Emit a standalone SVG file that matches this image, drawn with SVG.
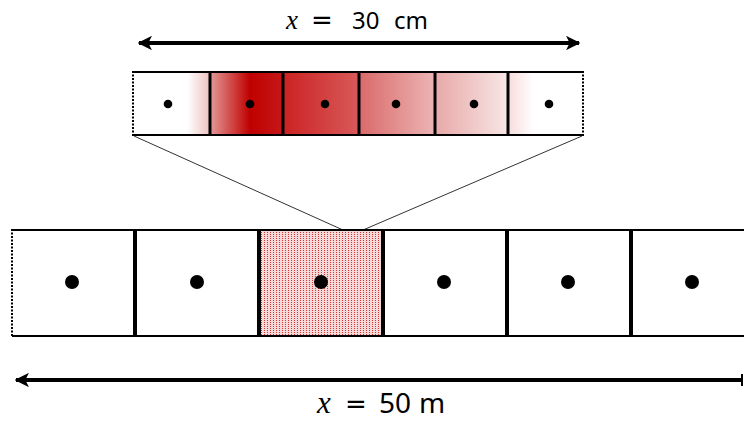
<svg xmlns="http://www.w3.org/2000/svg" width="744" height="421" viewBox="0 0 744 421">
  <style>
    .edge{stroke:#000;stroke-width:2;fill:none}
    .div{stroke:#000;stroke-width:3}
    .divb{stroke:#000;stroke-width:4}
    .dash{stroke:#000;stroke-width:2;stroke-dasharray:2 1.5}
    .conn{stroke:#333;stroke-width:1;fill:none}
    .arrow{stroke:#000;stroke-width:4;fill:none}
    .lbl{font-family:"Noto Sans","DejaVu Sans",sans-serif;fill:#000}
    .var{font-family:"Liberation Serif","DejaVu Serif",serif;font-style:italic}
    .eq{font-family:"DejaVu Sans",sans-serif}
  </style>
  <defs>
    <linearGradient id="g1" x1="133" x2="210" y1="0" y2="0" gradientUnits="userSpaceOnUse">
      <stop offset="0" stop-color="#fff"/><stop offset="0.7" stop-color="#fff"/><stop offset="1" stop-color="#eec0c0"/>
    </linearGradient>
    <linearGradient id="g2" x1="210" x2="283" y1="0" y2="0" gradientUnits="userSpaceOnUse">
      <stop offset="0" stop-color="#e49a9a"/><stop offset="0.55" stop-color="#c00000"/><stop offset="1" stop-color="#c41818"/>
    </linearGradient>
    <linearGradient id="g3" x1="283" x2="359" y1="0" y2="0" gradientUnits="userSpaceOnUse">
      <stop offset="0" stop-color="#cc2222"/><stop offset="1" stop-color="#d85a5a"/>
    </linearGradient>
    <linearGradient id="g4" x1="359" x2="435" y1="0" y2="0" gradientUnits="userSpaceOnUse">
      <stop offset="0" stop-color="#da6a6a"/><stop offset="1" stop-color="#ecb4b4"/>
    </linearGradient>
    <linearGradient id="g5" x1="435" x2="508" y1="0" y2="0" gradientUnits="userSpaceOnUse">
      <stop offset="0" stop-color="#e8a8a8"/><stop offset="1" stop-color="#f8e6e6"/>
    </linearGradient>
    <linearGradient id="g6" x1="508" x2="583" y1="0" y2="0" gradientUnits="userSpaceOnUse">
      <stop offset="0" stop-color="#f8dcdc"/><stop offset="0.35" stop-color="#fff"/><stop offset="1" stop-color="#fff"/>
    </linearGradient>
    <pattern id="dots" width="3" height="2" patternUnits="userSpaceOnUse">
      <rect width="3" height="2" fill="#f6d8d8"/>
      <rect width="1" height="1" fill="#d83838"/>
    </pattern>
    <marker id="ah" viewBox="0 0 10 10" refX="9" refY="5" markerWidth="3.6" markerHeight="3.6" orient="auto-start-reverse" markerUnits="strokeWidth">
      <path d="M0,0 L10,5 L0,10 L2.5,5 Z" fill="#000"/>
    </marker>
  </defs>

  <!-- top dimension -->
  <g id="dim-top">
    <line class="arrow" x1="139" y1="43" x2="579" y2="43" marker-start="url(#ah)" marker-end="url(#ah)"/>
    <text class="lbl" y="29" font-size="24"><tspan class="var" x="286" font-size="27">x</tspan><tspan class="eq" x="311" font-size="26">=</tspan><tspan x="352">30</tspan><tspan x="394">cm</tspan></text>
  </g>

  <!-- top (zoomed) strip -->
  <g id="fine-cell-1"><rect x="133" y="72" width="77" height="63" fill="url(#g1)"/><circle cx="168" cy="104" r="4.3"/></g>
  <g id="fine-cell-2"><rect x="210" y="72" width="73" height="63" fill="url(#g2)"/><circle cx="250" cy="104" r="4.3"/></g>
  <g id="fine-cell-3"><rect x="283" y="72" width="76" height="63" fill="url(#g3)"/><circle cx="325" cy="104" r="4.3"/></g>
  <g id="fine-cell-4"><rect x="359" y="72" width="76" height="63" fill="url(#g4)"/><circle cx="396" cy="104" r="4.3"/></g>
  <g id="fine-cell-5"><rect x="435" y="72" width="73" height="63" fill="url(#g5)"/><circle cx="474" cy="104" r="4.3"/></g>
  <g id="fine-cell-6"><rect x="508" y="72" width="75" height="63" fill="url(#g6)"/><circle cx="549" cy="104" r="4.3"/></g>
  <g id="fine-strip-frame">
    <line class="edge" x1="133" y1="72" x2="583" y2="72"/>
    <line class="edge" x1="133" y1="135" x2="583" y2="135"/>
    <line class="dash" x1="133" y1="71" x2="133" y2="136"/>
    <line class="dash" x1="583" y1="71" x2="583" y2="136"/>
    <line class="div" x1="210" y1="72" x2="210" y2="135"/>
    <line class="div" x1="283" y1="72" x2="283" y2="135"/>
    <line class="div" x1="359" y1="72" x2="359" y2="135"/>
    <line class="div" x1="435" y1="72" x2="435" y2="135"/>
    <line class="div" x1="508" y1="72" x2="508" y2="135"/>
  </g>

  <!-- connectors -->
  <g id="connectors">
    <line class="conn" x1="134" y1="136" x2="343" y2="230"/>
    <line class="conn" x1="582" y1="136" x2="363" y2="230"/>
  </g>

  <!-- bottom (coarse) strip -->
  <g id="cell-1"><rect x="12" y="230" width="124" height="106" fill="#fff"/><circle cx="72" cy="282" r="7"/></g>
  <g id="cell-2"><rect x="136" y="230" width="123" height="106" fill="#fff"/><circle cx="197" cy="282" r="7"/></g>
  <g id="cell-3"><rect x="259" y="230" width="124" height="106" fill="url(#dots)"/><circle cx="321" cy="282" r="7"/></g>
  <g id="cell-4"><rect x="383" y="230" width="124" height="106" fill="#fff"/><circle cx="444" cy="282" r="7"/></g>
  <g id="cell-5"><rect x="507" y="230" width="124" height="106" fill="#fff"/><circle cx="568" cy="282" r="7"/></g>
  <g id="cell-6"><rect x="631" y="230" width="113" height="106" fill="#fff"/><circle cx="692" cy="282" r="7"/></g>
  <g id="coarse-strip-frame">
    <line class="edge" x1="12" y1="230" x2="744" y2="230"/>
    <line class="edge" x1="12" y1="336" x2="744" y2="336"/>
    <line class="dash" x1="12" y1="229" x2="12" y2="337"/>
    <line class="divb" x1="135" y1="230" x2="135" y2="336"/>
    <line class="divb" x1="259" y1="230" x2="259" y2="336"/>
    <line class="divb" x1="383" y1="230" x2="383" y2="336"/>
    <line class="divb" x1="507" y1="230" x2="507" y2="336"/>
    <line class="divb" x1="631" y1="230" x2="631" y2="336"/>
  </g>

  <!-- bottom dimension -->
  <g id="dim-bottom">
    <line class="arrow" x1="16" y1="380" x2="742" y2="380" marker-start="url(#ah)"/>
    <line x1="742" y1="374" x2="742" y2="386" stroke="#000" stroke-width="2"/>
    <text class="lbl" y="413" font-size="28"><tspan class="var" x="317" font-size="31">x</tspan><tspan class="eq" x="345" font-size="26">=</tspan><tspan x="379">50</tspan><tspan x="419">m</tspan></text>
  </g>
</svg>
